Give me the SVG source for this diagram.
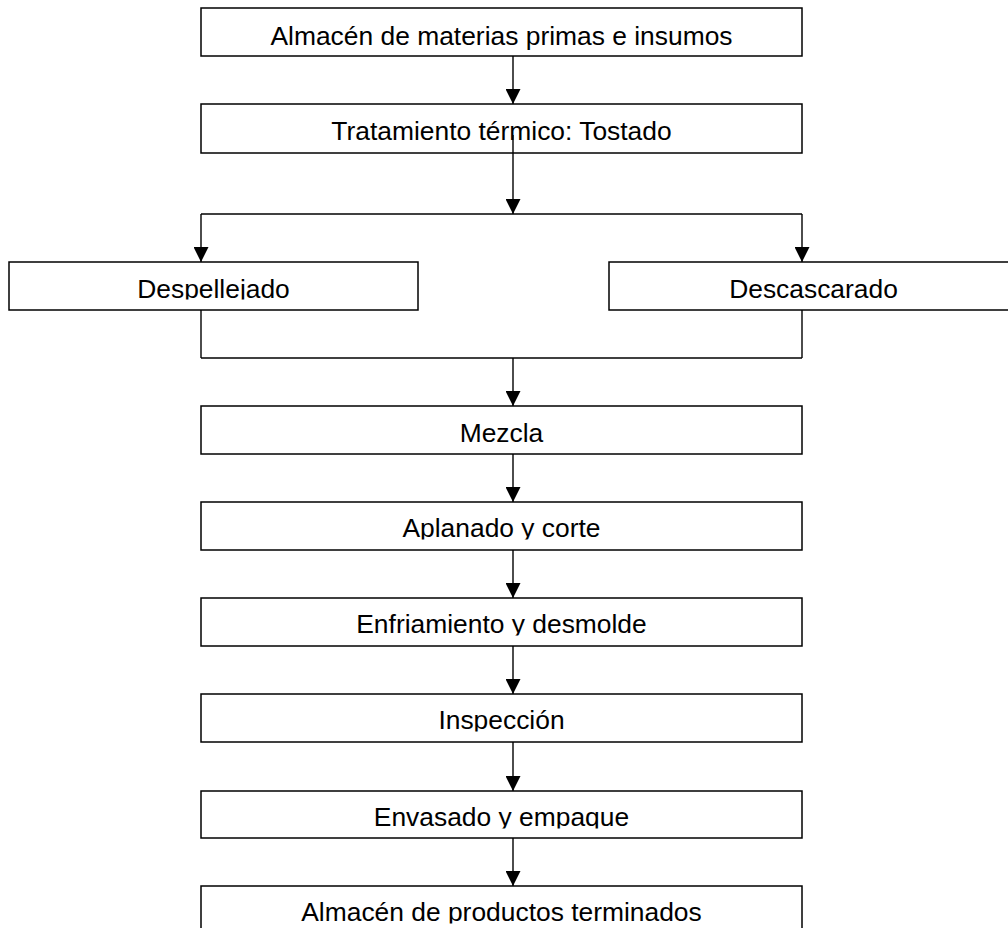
<svg xmlns="http://www.w3.org/2000/svg" width="1008" height="928" viewBox="0 0 1008 928">
<style>
.box{fill:#fff;stroke:#000;stroke-width:1.5}
.lbl{font-family:"Liberation Sans",Arial,sans-serif;font-size:26.4px;fill:#000;text-anchor:middle}
.ln{fill:none;stroke:#000;stroke-width:1.4}
</style>
<defs>
<marker id="ah" markerWidth="15" markerHeight="15" refX="15" refY="7.5" orient="auto" markerUnits="userSpaceOnUse">
<path d="M0,0 L15,7.5 L0,15 Z" fill="#000"/>
</marker>
<clipPath id="c3"><rect x="0" y="262" width="1008" height="37.5"/></clipPath>
<clipPath id="c6"><rect x="0" y="502" width="1008" height="37.5"/></clipPath>
<clipPath id="c7"><rect x="0" y="598" width="1008" height="37.5"/></clipPath>
<clipPath id="c8"><rect x="0" y="694" width="1008" height="37.5"/></clipPath>
<clipPath id="c9"><rect x="0" y="791" width="1008" height="37.5"/></clipPath>
<clipPath id="c10"><rect x="0" y="886" width="1008" height="37.5"/></clipPath>
</defs>
<rect width="1008" height="928" fill="#fff"/>
<g id="n1"><rect class="box" x="201" y="8" width="601" height="48"/><text class="lbl" x="501.5" y="45">Almacén de materias primas e insumos</text></g>
<g id="n2"><rect class="box" x="201" y="104" width="601" height="49"/><text class="lbl" x="501.5" y="140">Tratamiento térmico: Tostado</text></g>
<g id="n3"><rect class="box" x="9" y="262" width="409" height="48"/><text class="lbl" x="213.5" y="298" clip-path="url(#c3)">Despellejado</text></g>
<g id="n4"><rect class="box" x="609" y="262" width="409" height="48"/><text class="lbl" x="813.5" y="298">Descascarado</text></g>
<g id="n5"><rect class="box" x="201" y="406" width="601" height="48"/><text class="lbl" x="501.5" y="442">Mezcla</text></g>
<g id="n6"><rect class="box" x="201" y="502" width="601" height="48"/><text class="lbl" x="501.5" y="537" clip-path="url(#c6)">Aplanado y corte</text></g>
<g id="n7"><rect class="box" x="201" y="598" width="601" height="48"/><text class="lbl" x="501.5" y="633" clip-path="url(#c7)">Enfriamiento y desmolde</text></g>
<g id="n8"><rect class="box" x="201" y="694" width="601" height="48"/><text class="lbl" x="501.5" y="729" clip-path="url(#c8)">Inspección</text></g>
<g id="n9"><rect class="box" x="201" y="791" width="601" height="47"/><text class="lbl" x="501.5" y="826" clip-path="url(#c9)">Envasado y empaque</text></g>
<g id="n10"><rect class="box" x="201" y="886" width="601" height="48"/><text class="lbl" x="501.5" y="921" clip-path="url(#c10)">Almacén de productos terminados</text></g>
<g id="connectors">
<line class="ln" x1="513" y1="56" x2="513" y2="104" marker-end="url(#ah)"/>
<line class="ln" x1="513" y1="135" x2="513" y2="214" marker-end="url(#ah)"/>
<line class="ln" x1="201" y1="214" x2="802" y2="214"/>
<line class="ln" x1="201" y1="214" x2="201" y2="262" marker-end="url(#ah)"/>
<line class="ln" x1="802" y1="214" x2="802" y2="262" marker-end="url(#ah)"/>
<line class="ln" x1="201" y1="310" x2="201" y2="358"/>
<line class="ln" x1="802" y1="310" x2="802" y2="358"/>
<line class="ln" x1="201" y1="358" x2="802" y2="358"/>
<line class="ln" x1="513" y1="358" x2="513" y2="406" marker-end="url(#ah)"/>
<line class="ln" x1="513" y1="454" x2="513" y2="502" marker-end="url(#ah)"/>
<line class="ln" x1="513" y1="550" x2="513" y2="598" marker-end="url(#ah)"/>
<line class="ln" x1="513" y1="646" x2="513" y2="694" marker-end="url(#ah)"/>
<line class="ln" x1="513" y1="742" x2="513" y2="791" marker-end="url(#ah)"/>
<line class="ln" x1="513" y1="838" x2="513" y2="886" marker-end="url(#ah)"/>
</g>
</svg>
